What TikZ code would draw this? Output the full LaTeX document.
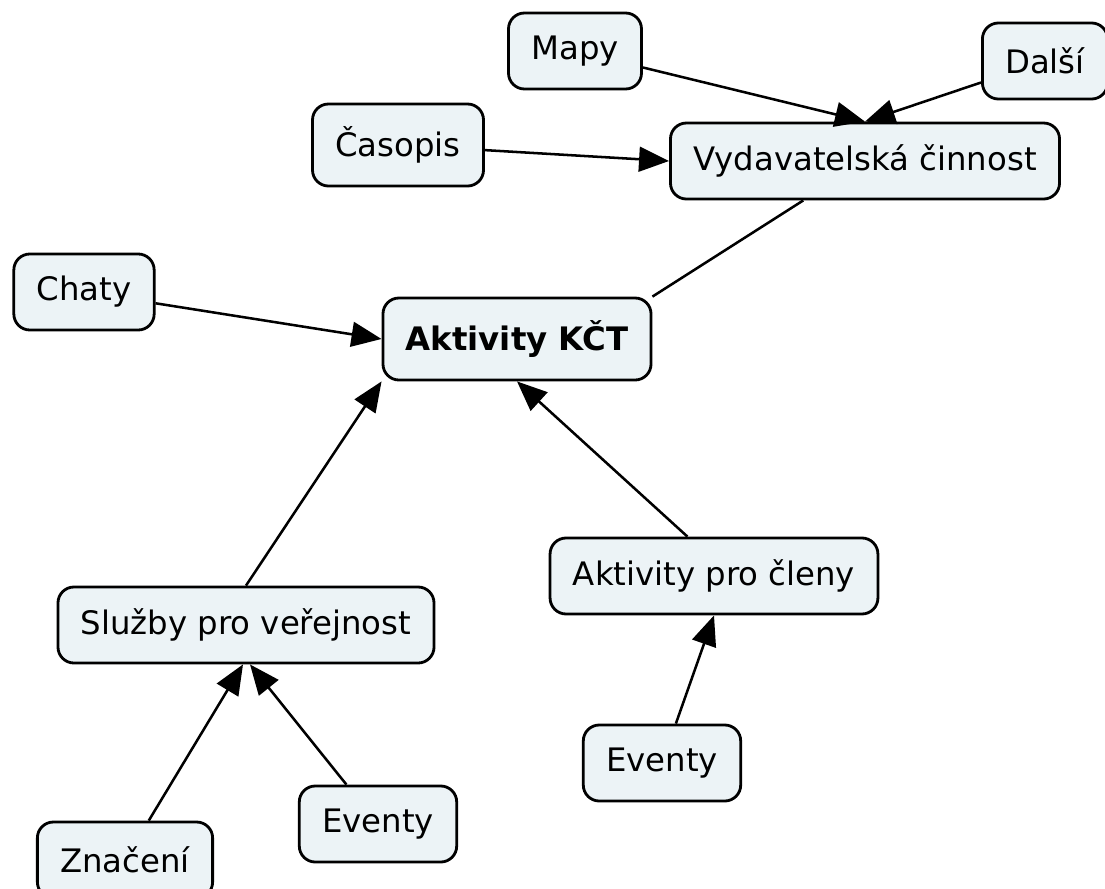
\documentclass[tikz,border=0pt]{standalone}
\usepackage{fontspec}
\setmainfont{DejaVu Sans}
\usepackage{tikz}
\usetikzlibrary{arrows.meta,positioning,calc}
\definecolor{kctfill}{RGB}{236,243,246}
\tikzset{
    block/.style={rectangle, draw, line width=2pt, fill=kctfill, rounded corners=0.4cm, inner xsep=0.57cm, minimum height=1.9cm, font=\fontsize{23}{28}\selectfont},
    line/.style={draw, line width=1.8pt, -{Triangle[length=0.75cm, width=0.62cm]}},
    link/.style={draw, line width=1.8pt}
}

\begin{document}
\begin{tikzpicture}[x=0.025cm, y=-0.025cm]
    \useasboundingbox (0,0) rectangle (1105,888);

    % Centre
    \node[block, minimum height=2.05cm, font=\fontsize{23}{28}\selectfont\bfseries] at (517,339) (kct) {Aktivity KČT};

    % Publishing
    \node[block] at (865,161) (vyd) {Vydavatelská činnost};
    \node[block] at (575,51) (mapy) {Mapy};
    \node[block] at (1045,61) (dalsi) {Další};
    \node[block, minimum height=2.05cm] at (398,145) (casopis) {Časopis};
    \draw[line] (mapy) -- (vyd.north);
    \draw[line] (dalsi) -- (vyd.north);
    \draw[line] (casopis) -- (vyd.west);
    \draw[link] (vyd) -- (kct.north east);

    % Huts
    \node[block] at (84,292) (chaty) {Chaty};
    \draw[line] (chaty) -- (kct.west);

    % Public services
    \node[block] at (246,625) (sluzby) {Služby pro veřejnost};
    \draw[line] (sluzby.north) -- (kct.south west);
    \node[block] at (125,860) (znaceni) {Značení};
    \node[block] at (378,824) (eventyA) {Eventy};
    \draw[line] (znaceni) -- ($(sluzby.south)+(-3,0)$);
    \draw[line] (eventyA) -- ($(sluzby.south)+(4,0)$);

    % Members
    \node[block] at (714,576) (clenove) {Aktivity pro členy};
    \draw[line] (clenove.124) -- (kct.south);
    \node[block] at (662,763) (eventyB) {Eventy};
    \draw[line] (eventyB) -- (clenove.south);
\end{tikzpicture}
\end{document}
